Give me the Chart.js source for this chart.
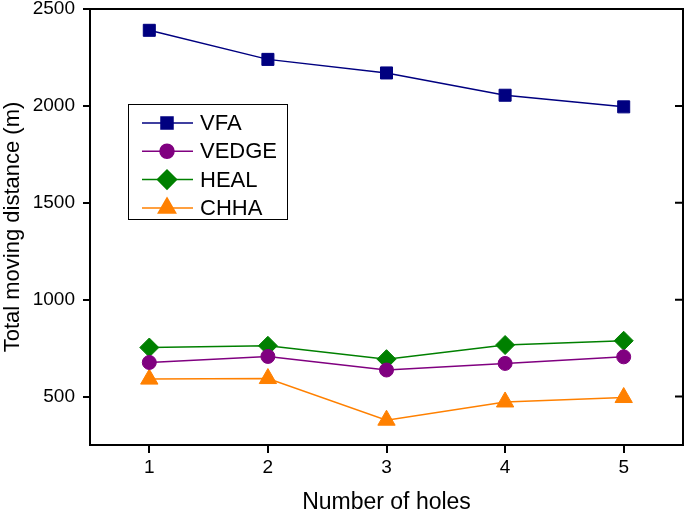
<!DOCTYPE html>
<html>
<head>
<meta charset="utf-8">
<script src="https://cdn.jsdelivr.net/npm/chart.js@4.4.1/dist/chart.umd.min.js"></script>
<style>
  html, body { margin: 0; padding: 0; background: #fff; }
  #wrap { width: 685px; height: 511px; }
</style>
</head>
<body>
<div id="wrap"><canvas id="holesChart" width="685" height="511"></canvas></div>
<script>
// Valores
const holes = ['1', '2', '3', '4', '5'];
const vfa = [2390, 2240, 2170, 2055, 1995];
const vedge = [676, 707, 637, 671, 705];
const heal = [753, 762, 693, 766, 788];
const chha = [590, 593, 378, 472, 495];
const yTicks = [500, 1000, 1500, 2000, 2500];
const yMin = 250;
const yMax = 2500;

const FONT = '"Liberation Sans", Arial, sans-serif';

function serie(label, data, color, style, radius) {
    return {
        label: label,
        data: data,
        borderColor: color,
        backgroundColor: color,
        borderWidth: 1.5,
        pointStyle: style,
        pointRadius: radius,
        pointHoverRadius: radius,
        pointBorderWidth: 1,
        pointBorderColor: color,
        pointBackgroundColor: color,
        tension: 0
    };
}

// moldura: linha de cima, linha da direita e ticks internos à direita
const framePlugin = {
    id: 'frame',
    afterDraw(chart) {
        const ctx = chart.ctx;
        const a = chart.chartArea;
        const y = chart.scales.y;
        ctx.save();
        ctx.strokeStyle = '#000';
        ctx.lineWidth = 2;
        ctx.beginPath();
        ctx.moveTo(a.left - 1, a.top);
        ctx.lineTo(a.right, a.top);
        ctx.lineTo(a.right, a.bottom + 1);
        y.ticks.forEach(t => {
            const py = y.getPixelForValue(t.value);
            ctx.moveTo(a.right, py);
            ctx.lineTo(a.right - 8, py);
        });
        ctx.stroke();
        ctx.restore();
    }
};

// legenda desenhada dentro da área do gráfico
const legendPlugin = {
    id: 'boxLegend',
    afterDraw(chart) {
        const ctx = chart.ctx;
        const a = chart.chartArea;
        const left = a.left + 38;
        const top = a.top + 95;
        ctx.save();
        ctx.strokeStyle = '#000';
        ctx.lineWidth = 1;
        ctx.strokeRect(left + 0.5, top + 0.5, 159, 115);
        chart.data.datasets.forEach((ds, i) => {
            const cy = top + 19 + i * 28.3;
            ctx.strokeStyle = ds.borderColor;
            ctx.lineWidth = 1.5;
            ctx.beginPath();
            ctx.moveTo(left + 14, cy);
            ctx.lineTo(left + 65, cy);
            ctx.stroke();
            ctx.fillStyle = ds.backgroundColor;
            Chart.helpers.drawPoint(ctx, {
                pointStyle: ds.pointStyle,
                radius: ds.pointRadius,
                rotation: 0,
                borderWidth: 1
            }, left + 39, cy);
            ctx.fillStyle = '#000';
            ctx.font = '22px ' + FONT;
            ctx.textBaseline = 'middle';
            ctx.textAlign = 'left';
            ctx.fillText(ds.label, left + 72, cy + 1);
        });
        ctx.restore();
    }
};

const ctx = document.getElementById('holesChart').getContext('2d');
new Chart(ctx, {
    type: 'line',
    data: {
        labels: holes,
        datasets: [
            serie('VFA', vfa, '#000080', 'rect', 8.5),
            serie('VEDGE', vedge, '#800080', 'circle', 7),
            serie('HEAL', heal, '#008000', 'rectRot', 9.5),
            serie('CHHA', chha, '#FF8000', 'triangle', 10)
        ]
    },
    options: {
        responsive: false,
        animation: false,
        layout: {
            autoPadding: false,
            padding: { top: 9, right: 2, left: 0, bottom: 0 }
        },
        plugins: {
            legend: { display: false },
            tooltip: { enabled: false }
        },
        scales: {
            x: {
                type: 'category',
                offset: true,
                afterFit: (scale) => {
                    scale.height = 66;
                    scale.paddingLeft = 0;
                    scale.paddingRight = 0;
                },
                ticks: {
                    color: '#000',
                    font: { family: FONT, size: 19 },
                    padding: 3,
                    autoSkip: false,
                    maxRotation: 0
                },
                grid: {
                    display: true,
                    drawOnChartArea: false,
                    drawTicks: true,
                    tickLength: 8,
                    color: '#000',
                    lineWidth: 2,
                    offset: false
                },
                border: { display: true, color: '#000', width: 2 },
                title: {
                    display: true,
                    text: 'Number of holes',
                    color: '#000',
                    font: { family: FONT, size: 23 },
                    padding: { top: 0, bottom: -5 }
                }
            },
            y: {
                min: yMin,
                max: yMax,
                afterBuildTicks: (scale) => {
                    scale.ticks = yTicks.map(v => ({ value: v }));
                },
                afterFit: (scale) => {
                    scale.width = 90;
                    scale.paddingTop = 0;
                    scale.paddingBottom = 0;
                },
                ticks: {
                    color: '#000',
                    font: { family: FONT, size: 19 },
                    padding: 8,
                    callback: (value) => String(value)
                },
                grid: {
                    display: true,
                    drawOnChartArea: false,
                    drawTicks: true,
                    tickLength: 7,
                    color: '#000',
                    lineWidth: 2
                },
                border: { display: true, color: '#000', width: 2 },
                title: {
                    display: true,
                    text: 'Total moving distance (m)',
                    color: '#000',
                    font: { family: FONT, size: 22 },
                    padding: { top: 0, bottom: 0 }
                }
            }
        }
    },
    plugins: [framePlugin, legendPlugin]
});
</script>
</body>
</html>
